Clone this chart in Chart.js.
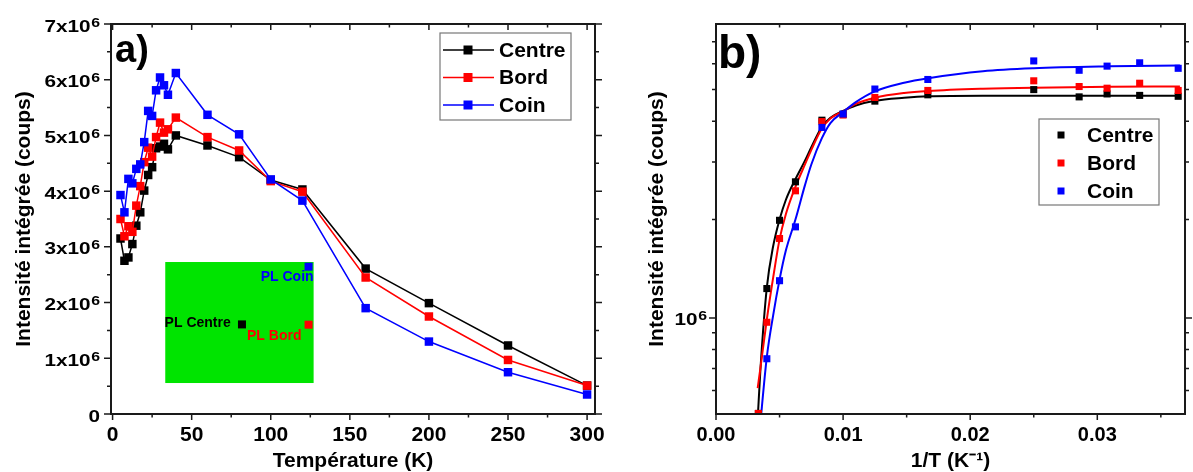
<!DOCTYPE html>
<html>
<head>
<meta charset="utf-8">
<script src="https://cdn.jsdelivr.net/npm/chart.js@4.4.1/dist/chart.umd.min.js"></script>
<style>
  html, body { margin: 0; padding: 0; background: #fff; }
  #wrap { position: relative; width: 1193px; height: 472px; overflow: hidden; }
  #chartA { position: absolute; left: 0; top: 0; }
  #chartB { position: absolute; left: 600px; top: 0; }
</style>
</head>
<body>
<div id="wrap">
  <canvas id="chartA" width="640" height="472"></canvas>
  <canvas id="chartB" width="593" height="472"></canvas>
</div>
<script>
// Values in units of 10^6 counts
const temps  = [5, 7.5, 10, 12.5, 15, 17.5, 20, 22.5, 25, 27.5, 30, 32.5, 35, 40, 60, 80, 100, 120, 160, 200, 250, 300];
const centre = [3.15, 2.75, 2.81, 3.05, 3.38, 3.62, 4.01, 4.29, 4.43, 4.77, 4.80, 4.85, 4.75, 5.00, 4.82, 4.61, 4.20, 4.03, 2.61, 1.99, 1.23, 0.51];
const bord   = [3.50, 3.19, 3.37, 3.27, 3.74, 4.09, 4.52, 4.78, 4.62, 4.97, 5.23, 5.05, 5.11, 5.32, 4.97, 4.73, 4.18, 3.99, 2.45, 1.75, 0.97, 0.51];
const coin   = [3.93, 3.62, 4.22, 4.14, 4.40, 4.48, 4.88, 5.44, 5.35, 5.81, 6.04, 5.90, 5.73, 6.12, 5.37, 5.02, 4.21, 3.83, 1.90, 1.30, 0.75, 0.35];

// fitted curves of panel b) (x = 1/T)
const fitInvT   = [0.00328, 0.0035, 0.004, 0.0045, 0.005, 0.0055, 0.00625, 0.007, 0.0075, 0.00833, 0.009, 0.010, 0.011, 0.0125, 0.0148, 0.0167, 0.021, 0.025, 0.031, 0.0365];
const fitCentre = [0.49, 0.70, 1.24, 1.66, 2.00, 2.30, 2.66, 3.03, 3.33, 3.85, 4.10, 4.30, 4.47, 4.62, 4.72, 4.77, 4.79, 4.79, 4.79, 4.79];
const fitBord   = [0.61, 0.705, 0.99, 1.33, 1.74, 2.08, 2.52, 2.95, 3.27, 3.80, 4.08, 4.29, 4.52, 4.72, 4.88, 4.95, 5.03, 5.07, 5.10, 5.11];
const fitCoin   = [0.385, 0.48, 0.76, 1.02, 1.31, 1.61, 2.00, 2.55, 2.95, 3.55, 3.95, 4.27, 4.58, 4.94, 5.25, 5.42, 5.69, 5.81, 5.89, 5.93];

// axis ticks
const tempTicks = [0, 25, 50, 75, 100, 125, 150, 175, 200, 225, 250, 275, 300];
const intTicks  = [0, 0.5, 1, 1.5, 2, 2.5, 3, 3.5, 4, 4.5, 5, 5.5, 6, 6.5, 7];
const invTTicks = [0, 0.005, 0.01, 0.015, 0.02, 0.025, 0.03, 0.035];
const logTicks  = [0.6, 0.7, 0.8, 0.9, 1, 2, 3, 4, 5, 6, 7];

const series = [
  { label: 'Centre', values: centre, fit: fitCentre, color: '#000000' },
  { label: 'Bord',   values: bord,   fit: fitBord,   color: '#ff0000' },
  { label: 'Coin',   values: coin,   fit: fitCoin,   color: '#0000ff' }
];

// inset (sample photo) in data units of panel a)
const inset = { t0: 33.3, t1: 127.1, i0: 0.556, i1: 2.728, color: '#00e400' };
const insetSpots = [
  { text: 'PL Centre', color: '#000000', tx: 32.9,  ty: 1.63,  align: 'left',  mx: 81.8,  my: 1.608 },
  { text: 'PL Bord',   color: '#ff0000', tx: 85.0,  ty: 1.397, align: 'left',  mx: 123.9, my: 1.603 },
  { text: 'PL Coin',   color: '#0000ff', tx: 127.1, ty: 2.456, align: 'right', mx: 123.9, my: 2.644 }
];

Chart.defaults.font.family = "'Liberation Sans', Arial, sans-serif";
Chart.defaults.font.weight = 'bold';
Chart.defaults.color = '#000';

const FONT = "'Liberation Sans', Arial, sans-serif";

// frame with mirrored ticks
const framePlugin = {
  id: 'frame',
  afterDatasetsDraw(chart) {
    const { ctx, chartArea: a, scales } = chart;
    ctx.save();
    ctx.strokeStyle = '#1a1a1a';
    ctx.lineWidth = 2;
    ctx.strokeRect(a.left, a.top, a.right - a.left, a.bottom - a.top);
    ctx.lineWidth = 1.5;
    ctx.beginPath();
    scales.x.ticks.forEach(t => {
      const p = scales.x.getPixelForValue(t.value);
      const len = t.label ? 6 : 3.5;
      ctx.moveTo(p, a.bottom); ctx.lineTo(p, a.bottom + len);
      ctx.moveTo(p, a.top);    ctx.lineTo(p, a.top + len);
    });
    scales.y.ticks.forEach(t => {
      const p = scales.y.getPixelForValue(t.value);
      const len = t.label ? 7 : 4;
      ctx.moveTo(a.left - len, p); ctx.lineTo(a.left, p);
      ctx.moveTo(a.right, p);      ctx.lineTo(a.right + len, p);
    });
    ctx.stroke();

    // y tick labels with a real superscript exponent
    const gap = chart.options.plugins.frame.labelGap;
    ctx.fillStyle = '#000';
    ctx.textAlign = 'right';
    ctx.textBaseline = 'alphabetic';
    scales.y.ticks.forEach(t => {
      if (!t.label) return;
      const py = scales.y.getPixelForValue(t.value);
      ctx.save();
      ctx.translate(a.left - gap, py);
      ctx.scale(1.22, 1);
      let x = 0;
      if (t.label !== '0') {
        ctx.font = 'bold 13px ' + FONT;
        ctx.fillText('6', 0, 2.5);
        x = -ctx.measureText('6').width - 0.5;
      }
      ctx.font = 'bold 17px ' + FONT;
      ctx.fillText(t.label, x, 7.5);
      ctx.restore();
    });
    ctx.restore();
  }
};

function drawLegend(chart, box, withLine) {
  const { ctx } = chart;
  ctx.save();
  ctx.fillStyle = '#fff';
  ctx.fillRect(box.x, box.y, box.w, box.h);
  ctx.strokeStyle = '#777';
  ctx.lineWidth = 1.2;
  ctx.strokeRect(box.x, box.y, box.w, box.h);
  ctx.font = 'bold 21px ' + FONT;
  ctx.textBaseline = 'middle';
  series.forEach((s, i) => {
    const y = box.y + box.first + i * box.step;
    ctx.fillStyle = s.color;
    ctx.strokeStyle = s.color;
    if (withLine) {
      ctx.lineWidth = 1.5;
      ctx.beginPath();
      ctx.moveTo(box.x + 3, y); ctx.lineTo(box.x + 54, y);
      ctx.stroke();
    }
    const m = box.marker;
    ctx.fillRect(box.x + box.mx - m / 2, y - m / 2, m, m);
    ctx.fillStyle = '#000';
    ctx.fillText(s.label, box.x + box.tx, y + 1);
  });
  ctx.restore();
}

const panelA = {
  id: 'panelA',
  beforeDatasetsDraw(chart) {
    const { ctx, scales: { x, y } } = chart;
    ctx.save();
    const l = x.getPixelForValue(inset.t0), r = x.getPixelForValue(inset.t1);
    const t = y.getPixelForValue(inset.i1), b = y.getPixelForValue(inset.i0);
    ctx.fillStyle = inset.color;
    ctx.fillRect(l, t, r - l, b - t);
    ctx.font = 'bold 14px ' + FONT;
    ctx.textBaseline = 'middle';
    insetSpots.forEach(s => {
      ctx.fillStyle = s.color;
      const mx = x.getPixelForValue(s.mx), my = y.getPixelForValue(s.my);
      ctx.fillRect(mx - 4, my - 4, 8, 8);
      ctx.textAlign = s.align;
      ctx.fillText(s.text, x.getPixelForValue(s.tx), y.getPixelForValue(s.ty));
    });
    ctx.restore();
  },
  afterDraw(chart) {
    const { ctx, chartArea: a } = chart;
    drawLegend(chart, { x: a.right - 155, y: a.top + 9, w: 131, h: 87, first: 17, step: 27.5, marker: 9, mx: 28, tx: 59 }, true);
    ctx.save();
    ctx.font = 'bold 38px ' + FONT;
    ctx.fillStyle = '#000';
    ctx.textBaseline = 'alphabetic';
    ctx.fillText('a)', a.left + 4, a.top + 38);
    ctx.restore();
  }
};

const panelB = {
  id: 'panelB',
  afterDraw(chart) {
    const { ctx, chartArea: a } = chart;
    drawLegend(chart, { x: a.right - 146, y: a.top + 95, w: 120, h: 86, first: 16, step: 28, marker: 7, mx: 22, tx: 48 }, false);
    ctx.save();
    ctx.font = 'bold 46px ' + FONT;
    ctx.fillStyle = '#000';
    ctx.fillText('b)', a.left + 2, a.top + 44);
    ctx.restore();
  }
};

function fixBox(w, h) {
  return s => {
    if (w) s.width = w;
    if (h) s.height = h;
    s.paddingLeft = 0; s.paddingRight = 0; s.paddingTop = 0; s.paddingBottom = 0;
  };
}

const titleFont = { size: 21, weight: 'bold', lineHeight: 1 };

// Panel a)
new Chart(document.getElementById('chartA'), {
  type: 'scatter',
  data: {
    datasets: series.map((s, i) => ({
      label: s.label,
      data: temps.map((t, j) => ({ x: t, y: s.values[j] })),
      showLine: true,
      borderColor: s.color,
      backgroundColor: s.color,
      borderWidth: 1.5,
      pointStyle: 'rect',
      pointRadius: 6,
      pointBorderWidth: 0,
      order: 2 - i
    }))
  },
  options: {
    responsive: false,
    animation: false,
    layout: { padding: { left: 0, right: 45, top: 24, bottom: 0 } },
    plugins: { legend: { display: false }, tooltip: { enabled: false }, frame: { labelGap: 11 } },
    scales: {
      x: {
        type: 'linear', min: -1, max: 305,
        afterBuildTicks: ax => { ax.ticks = tempTicks.map(v => ({ value: v })); },
        afterFit: fixBox(0, 58),
        grid: { display: false, drawTicks: false },
        border: { display: false },
        ticks: { callback: v => (v % 50 === 0 ? String(v) : ''), font: { size: 21 }, padding: 9, autoSkip: false, maxRotation: 0 },
        title: { display: true, text: 'Température (K)', font: titleFont, padding: { top: 0, bottom: 0 } }
      },
      y: {
        type: 'linear', min: 0, max: 7,
        afterBuildTicks: ax => { ax.ticks = intTicks.map(v => ({ value: v })); },
        afterFit: fixBox(111, 0),
        grid: { display: false, drawTicks: false },
        border: { display: false },
        ticks: { display: false, callback: v => (Number.isInteger(v) ? (v === 0 ? '0' : v + 'x10') : ''), autoSkip: false },
        title: { display: true, text: 'Intensité intégrée (coups)', font: titleFont, padding: { top: 13.5, bottom: 0 } }
      }
    }
  },
  plugins: [panelA, framePlugin]
});

// Panel b)
const fitSets = series.map((s, i) => ({
  label: s.label + ' fit',
  data: fitInvT.map((v, j) => ({ x: v, y: s.fit[j] })),
  showLine: true,
  borderColor: s.color,
  borderWidth: 2,
  pointRadius: 0,
  cubicInterpolationMode: 'monotone',
  order: 5 - i
}));
const pointSets = series.map((s, i) => ({
  label: s.label,
  data: temps.map((t, j) => ({ x: 1 / t, y: s.values[j] })),
  backgroundColor: s.color,
  pointStyle: 'rect',
  pointRadius: 5,
  pointBorderWidth: 0,
  order: 2 - i
}));

new Chart(document.getElementById('chartB'), {
  type: 'scatter',
  data: { datasets: fitSets.concat(pointSets) },
  options: {
    responsive: false,
    animation: false,
    layout: { padding: { left: 0, right: 8, top: 24, bottom: 0 } },
    plugins: { legend: { display: false }, tooltip: { enabled: false }, frame: { labelGap: 9 } },
    scales: {
      x: {
        type: 'linear', min: 0, max: 0.0369,
        afterBuildTicks: ax => { ax.ticks = invTTicks.map(v => ({ value: v })); },
        afterFit: fixBox(0, 58),
        grid: { display: false, drawTicks: false },
        border: { display: false },
        ticks: { callback: v => (Math.round(v * 1000) % 10 === 0 ? v.toFixed(2) : ''), font: { size: 20 }, padding: 9, autoSkip: false, maxRotation: 0 },
        title: { display: true, text: '1/T (K⁻¹)', font: titleFont, padding: { top: 0, bottom: 0 } }
      },
      y: {
        type: 'logarithmic', min: 0.508, max: 7.94,
        afterBuildTicks: ax => { ax.ticks = logTicks.map(v => ({ value: v })); },
        afterFit: fixBox(116, 0),
        grid: { display: false, drawTicks: false },
        border: { display: false },
        ticks: { display: false, callback: v => (v === 1 ? '10' : ''), autoSkip: false },
        title: { display: true, text: 'Intensité intégrée (coups)', font: titleFont, padding: { top: 46.5, bottom: 0 } }
      }
    }
  },
  plugins: [panelB, framePlugin]
});
</script>
</body>
</html>
